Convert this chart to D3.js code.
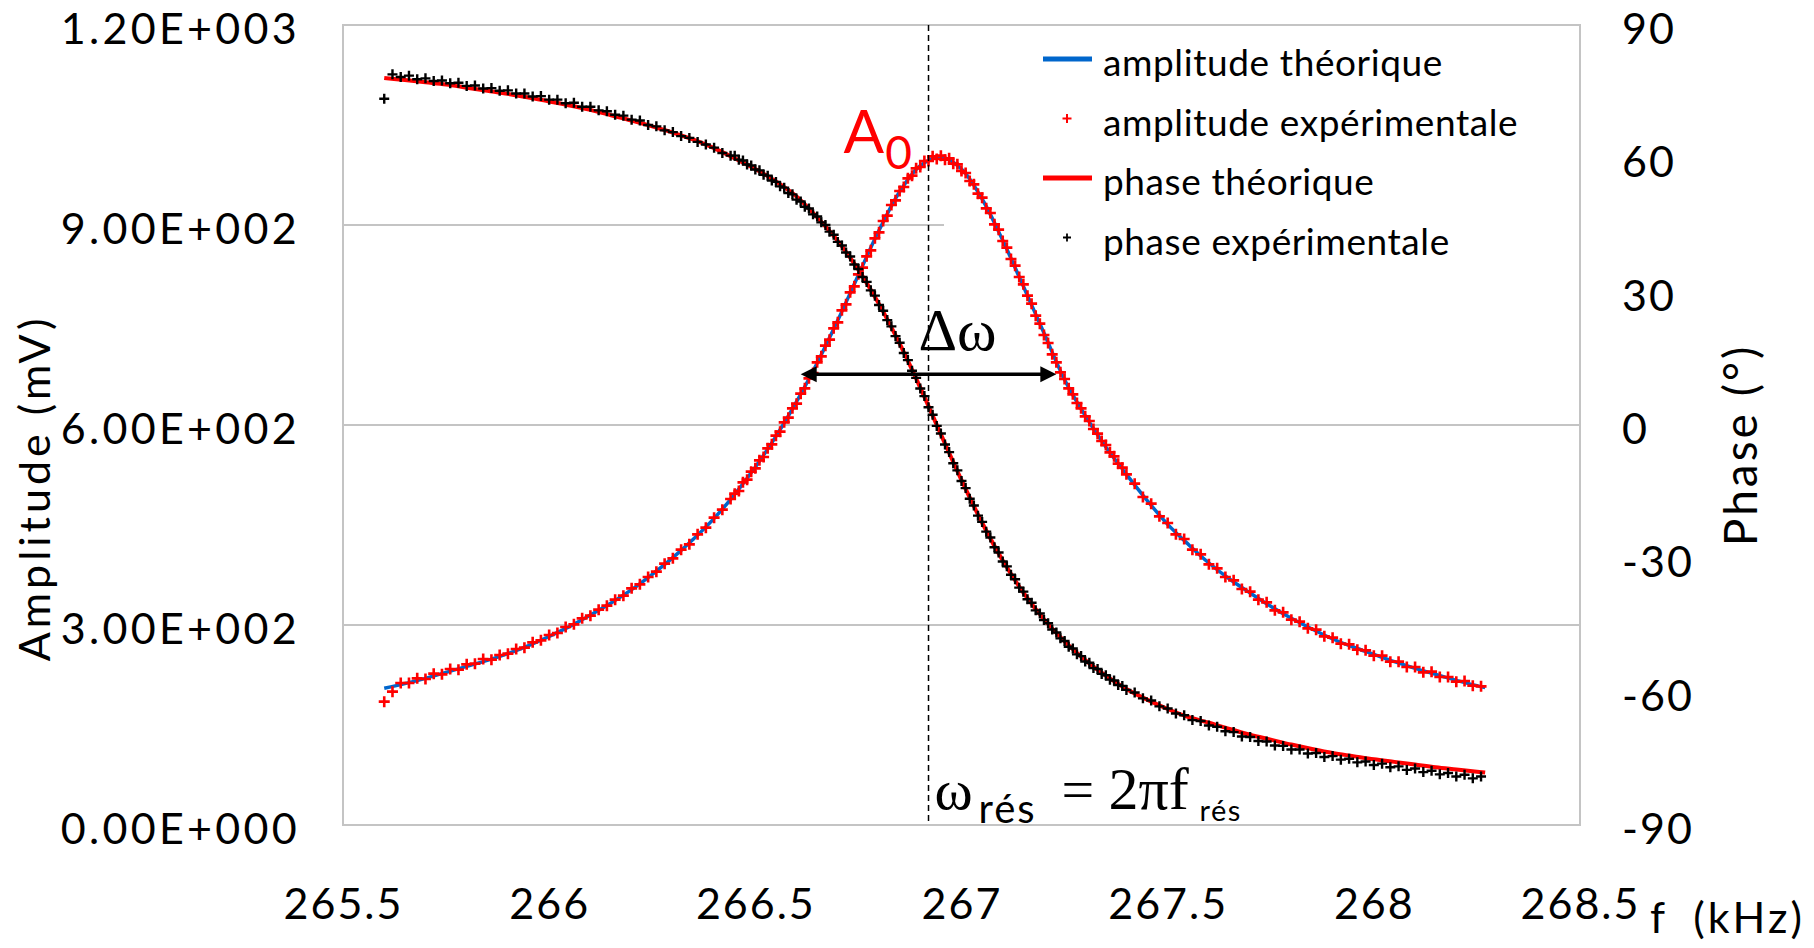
<!DOCTYPE html>
<html>
<head>
<meta charset="utf-8">
<script src="https://cdn.jsdelivr.net/npm/d3@7"></script>
<style>
  body { margin: 0; background: #fff; }
  svg text { font-family: Lato, "Open Sans", sans-serif; fill: #000; }
</style>
</head>
<body>
<div id="chart"></div>
<script>
// ---- data ----
// theoretical curves, every 0.05 kHz
const freqTheo = [265.60,265.65,265.70,265.75,265.80,265.85,265.90,265.95,266.00,266.05,266.10,266.15,266.20,266.25,266.30,266.35,266.40,
  266.45,266.50,266.55,266.60,266.65,266.70,266.75,266.80,266.85,266.90,266.95,267.00,267.05,267.10,267.15,267.20,267.25,267.30,267.35,267.40,
  267.45,267.50,267.55,267.60,267.65,267.70,267.75,267.80,267.85,267.90,267.95,268.00,268.05,268.10,268.15,268.20,268.25,268.27];
const ampTheo = [205,212,220,229,238,247,257,269,283,298,315,333,353,376,401,429,460,
  496,537,583,635,693,757,825,892,950,989,1002,984,939,877,808,738,668,614,567,526,
  487,451,421,393,369,348,328,310,294,279,267,256,245,235,226,217,209,206];
const phaseTheo = [78.1,77.6,77.1,76.6,75.9,75.2,74.5,73.7,72.8,71.9,70.9,69.7,68.5,67.2,65.8,64.2,62.3,
  60.0,57.6,54.8,51.4,46.7,41.4,34.9,27.2,18.3,8.4,-2.1,-12.4,-22.0,-30.5,-37.7,-43.7,-48.7,-52.9,-56.4,-59.4,
  -61.8,-63.9,-65.7,-67.0,-68.4,-69.7,-70.8,-71.9,-72.9,-73.8,-74.5,-75.2,-75.8,-76.4,-77.0,-77.5,-78.0,-78.2];

// experimental points
const freqExp = [265.60,265.62,265.64,265.66,265.68,265.70,265.72,265.74,265.76,265.78,265.80,265.82,265.84,265.86,265.88,265.90,
  265.92,265.94,265.96,265.98,266.00,266.02,266.04,266.06,266.08,266.10,266.12,266.14,266.16,266.18,266.20,266.22,266.24,266.26,
  266.28,266.30,266.32,266.34,266.36,266.38,266.40,266.42,266.44,
  266.45,266.46,266.47,266.48,266.49,266.50,266.51,266.52,266.53,266.54,266.55,266.56,266.57,266.58,266.59,266.60,266.61,266.62,
  266.63,266.64,266.65,266.66,266.67,266.68,266.69,266.70,266.71,266.72,266.73,266.74,266.75,266.76,266.77,266.78,266.79,266.80,
  266.81,266.82,266.83,266.84,266.85,266.86,266.87,266.88,266.89,266.90,266.91,266.92,266.93,266.94,266.95,266.96,266.97,266.98,
  266.99,267.00,267.01,267.02,267.03,267.04,267.05,267.06,267.07,267.08,267.09,267.10,267.11,267.12,267.13,267.14,267.15,267.16,
  267.17,267.18,267.19,267.20,267.21,267.22,267.23,267.24,267.25,267.26,267.27,267.28,267.29,267.30,267.31,267.32,267.33,267.34,
  267.35,267.36,267.37,267.38,267.39,267.40,
  267.42,267.44,267.46,267.48,267.50,267.52,267.54,267.56,267.58,267.60,267.62,267.64,267.66,267.68,267.70,267.72,267.74,267.76,
  267.78,267.80,267.82,267.84,267.86,267.88,267.90,267.92,267.94,267.96,267.98,268.00,268.02,268.04,268.06,268.08,268.10,268.12,
  268.14,268.16,268.18,268.20,268.22,268.24,268.26];
const ampExp = [185,200,213,213,220,219,227,226,234,233,241,242,249,248,255,257,264,266,274,277,285,288,297,301,310,314,323,329,
  338,344,355,361,372,380,392,400,413,421,436,446,461,473,489,
  497,501,514,518,530,535,547,552,565,571,584,590,604,611,625,632,647,655,670,678,694,703,719,728,745,754,772,781,799,808,
  826,836,853,862,880,889,906,914,930,937,951,957,970,974,985,987,996,996,1003,999,1004,998,1000,992,991,981,978,966,961,947,
  941,925,918,901,893,876,866,849,839,822,811,794,782,764,752,735,723,706,694,679,669,655,646,633,625,613,606,594,587,576,
  570,559,553,542,536,526,
  512,492,482,463,453,436,429,413,406,391,385,372,367,354,350,338,334,322,319,308,305,295,293,283,281,272,271,263,262,254,
  254,245,245,237,237,229,230,222,222,215,216,209,208];
const phaseExp = [73.4,78.9,78.3,78.6,77.8,78.0,77.4,77.5,76.9,77.0,76.3,76.4,75.7,75.8,75.2,75.3,74.6,74.6,73.9,74.0,73.2,73.2,
  72.4,72.5,71.6,71.6,70.8,70.6,69.8,69.6,68.7,68.5,67.5,67.2,66.3,65.9,65.0,64.6,63.7,63.1,62.4,61.2,60.6,
  60.6,59.7,59.5,58.6,58.4,57.5,57.3,56.3,56.1,55.0,54.7,53.7,53.4,52.2,51.9,50.7,50.3,49.1,48.7,47.4,
  46.9,45.6,45.0,43.5,42.8,41.2,40.4,38.8,37.9,36.1,35.1,33.3,32.2,30.3,29.1,27.0,25.7,23.6,22.2,20.0,
  18.5,16.2,14.6,12.2,10.6,8.2,6.5,4.0,2.3,-0.2,-1.9,-4.4,-6.1,-8.6,-10.2,-12.6,-14.2,-16.6,-18.1,-20.4,
  -21.8,-24.0,-25.3,-27.5,-28.7,-30.7,-31.8,-33.7,-34.7,-36.6,-37.5,-39.2,-40.0,-41.7,-42.4,-43.9,-44.6,-46.0,-46.7,-48.0,
  -48.6,-49.9,-50.3,-51.6,-52.0,-53.2,-53.5,-54.7,-54.9,-56.0,-56.3,-57.3,-57.5,-58.5,-58.7,-59.6,
  -60.2,-61.5,-62.0,-63.3,-63.8,-64.9,-65.3,-66.4,-66.6,-67.6,-67.9,-68.9,-69.1,-70.1,-70.2,-71.1,-71.2,-72.1,-72.2,-73.0,
  -73.0,-73.9,-73.8,-74.7,-74.5,-75.3,-75.1,-75.9,-75.7,-76.5,-76.2,-77.0,-76.8,-77.6,-77.3,-78.1,-77.8,-78.6,-78.3,-79.1,
  -78.7,-79.5,-79.1];

const ampTicks = [0, 300, 600, 900, 1200];
const phaseTicks = [-90, -60, -30, 0, 30, 60, 90];
const freqTicks = [265.5, 266, 266.5, 267, 267.5, 268, 268.5];
const legendLabels = ["amplitude théorique", "amplitude expérimentale", "phase théorique", "phase expérimentale"];

// annotations
const fRes = 266.92;          // dashed line
const ampPeak = 1002;         // A0
const deltaLeft = 266.61, deltaRight = 267.23, deltaLevel = 676;

// ---- layout ----
const W = 1814, H = 948;
const margin = {top: 25, right: 234, bottom: 123, left: 343};
const x0 = margin.left, x1 = W - margin.right, y0 = margin.top, y1 = H - margin.bottom;

const blue = "#0066cc", red = "#ff0000", grid = "#c4c4c4";

const svg = d3.select("#chart").append("svg")
  .attr("width", W).attr("height", H)
  .attr("viewBox", `0 0 ${W} ${H}`);

svg.append("rect").attr("width", W).attr("height", H).attr("fill", "#fff");

const x = d3.scaleLinear().domain([265.5, 268.5]).range([x0, x1]);
const yA = d3.scaleLinear().domain([0, 1200]).range([y1, y0]);
const yP = d3.scaleLinear().domain([-90, 90]).range([y1, y0]);

// gridlines
svg.append("g").selectAll("line").data(ampTicks).join("line")
  .attr("x1", x0).attr("x2", x1)
  .attr("y1", d => yA(d)).attr("y2", d => yA(d))
  .attr("stroke", grid).attr("stroke-width", 2);

// legend background hides the grid behind it
const legendBox = {x: 944, y: y0 + 2, w: x1 - 944 - 1, h: 243};
svg.append("rect")
  .attr("x", legendBox.x).attr("y", legendBox.y)
  .attr("width", legendBox.w).attr("height", legendBox.h)
  .attr("fill", "#fff");

// plot frame
svg.append("rect")
  .attr("x", x0).attr("y", y0).attr("width", x1 - x0).attr("height", y1 - y0)
  .attr("fill", "none").attr("stroke", grid).attr("stroke-width", 2);

// ---- series ----
const theoRows = freqTheo.map((f, i) => ({f, a: ampTheo[i], p: phaseTheo[i]}));
const expRows = freqExp.map((f, i) => ({f, a: ampExp[i], p: phaseExp[i]}));

const plus = (cx, cy, s) => `M${cx - s},${cy}H${cx + s}M${cx},${cy - s}V${cy + s}`;

svg.append("path").datum(theoRows)
  .attr("fill", "none").attr("stroke", blue).attr("stroke-width", 3.5)
  .attr("d", d3.line().x(d => x(d.f)).y(d => yA(d.a)).curve(d3.curveCatmullRom));

svg.append("g").selectAll("path").data(expRows).join("path")
  .attr("d", d => plus(x(d.f), yA(d.a), 5.5))
  .attr("stroke", red).attr("stroke-width", 2.6);

svg.append("path").datum(theoRows)
  .attr("fill", "none").attr("stroke", red).attr("stroke-width", 4)
  .attr("d", d3.line().x(d => x(d.f)).y(d => yP(d.p)).curve(d3.curveCatmullRom));

svg.append("g").selectAll("path").data(expRows).join("path")
  .attr("d", d => plus(x(d.f), yP(d.p), 5))
  .attr("stroke", "#000").attr("stroke-width", 2.4);

// ---- annotations ----
svg.append("line")
  .attr("x1", x(fRes)).attr("x2", x(fRes))
  .attr("y1", y0).attr("y2", y1)
  .attr("stroke", "#000").attr("stroke-width", 1.5)
  .attr("stroke-dasharray", "6,4");

const ay = yA(deltaLevel), axL = x(deltaLeft), axR = x(deltaRight);
svg.append("line")
  .attr("x1", axL + 12).attr("x2", axR - 12).attr("y1", ay).attr("y2", ay)
  .attr("stroke", "#000").attr("stroke-width", 3.5);
svg.append("path")
  .attr("d", `M${axL},${ay}L${axL + 16},${ay - 8}L${axL + 16},${ay + 8}Z M${axR},${ay}L${axR - 16},${ay - 8}L${axR - 16},${ay + 8}Z`)
  .attr("fill", "#000");

svg.append("text")
  .attr("x", x(fRes) - 10).attr("y", ay - 24)
  .style("font-family", "'Liberation Serif', 'DejaVu Serif', serif")
  .attr("font-size", 60).text("Δω");

const a0 = svg.append("text")
  .attr("x", x(fRes) - 85).attr("y", yA(ampPeak) - 4)
  .style("fill", red).attr("font-size", 60);
a0.append("tspan").text("A");
a0.append("tspan").attr("font-size", 46).attr("dy", 16).attr("dx", 1).text("0");

// omega_res = 2 pi f_res
const eqY = y1 - 16, serif = "'Liberation Serif', 'DejaVu Serif', serif";
svg.append("text").attr("x", x(fRes) + 6).attr("y", eqY)
  .style("font-family", serif).attr("font-size", 58).text("ω");
svg.append("text").attr("x", x(fRes) + 50).attr("y", eqY + 14)
  .attr("font-size", 40).style("letter-spacing", "2px").text("rés");
svg.append("text").attr("x", x(fRes) + 133).attr("y", eqY)
  .style("font-family", serif).attr("font-size", 58).text("=");
svg.append("text").attr("x", x(fRes) + 180).attr("y", eqY)
  .style("font-family", serif).attr("font-size", 60).text("2πf");
svg.append("text").attr("x", x(fRes) + 271).attr("y", eqY + 12)
  .attr("font-size", 29).style("letter-spacing", "1.5px").text("rés");

// ---- legend ----
const lgX = 1043, lgY = 59, lgStep = 59.5;
const legend = svg.append("g");
legendLabels.forEach((label, i) => {
  const cy = lgY + i * lgStep;
  if (i === 0 || i === 2) {
    legend.append("line").attr("x1", lgX).attr("x2", lgX + 49)
      .attr("y1", cy).attr("y2", cy)
      .attr("stroke", i === 0 ? blue : red).attr("stroke-width", 5);
  } else {
    legend.append("path").attr("d", plus(lgX + 24, cy, i === 1 ? 4.5 : 4))
      .attr("stroke", i === 1 ? red : "#000").attr("stroke-width", i === 1 ? 2 : 1.8);
  }
  legend.append("text").attr("x", 1103).attr("y", cy + 17)
    .attr("font-size", 37).style("letter-spacing", "0.6px").text(label);
});

// ---- axes ----
const fmtE = d => {
  const [m, e] = d.toExponential(2).split("e");
  const n = +e;
  return m + "E" + (n < 0 ? "-" : "+") + String(Math.abs(n)).padStart(3, "0");
};

const styleAxis = (g, ls) => {
  g.attr("font-family", "Lato, sans-serif").attr("font-size", 43);
  g.select(".domain").remove();
  g.selectAll(".tick line").remove();
  g.selectAll("text").style("letter-spacing", ls + "px");
};

svg.append("g")
  .attr("transform", `translate(${x0},0)`)
  .call(d3.axisLeft(yA).tickValues(ampTicks).tickFormat(fmtE).tickSize(0).tickPadding(43))
  .call(styleAxis, 3.3)
  .selectAll("text").attr("dy", "0.43em");

svg.append("g")
  .attr("transform", `translate(${x1},0)`)
  .call(d3.axisRight(yP).tickValues(phaseTicks).tickFormat(d => String(d)).tickSize(0).tickPadding(42))
  .call(styleAxis, 2)
  .selectAll("text").attr("dy", "0.43em");

svg.append("g")
  .attr("transform", `translate(0,${y1})`)
  .call(d3.axisBottom(x).tickValues(freqTicks).tickFormat(d => String(d)).tickSize(0).tickPadding(63))
  .call(styleAxis, 2);

// axis titles
svg.append("text")
  .attr("transform", `translate(50,488) rotate(-90)`)
  .attr("text-anchor", "middle").attr("font-size", 43)
  .style("letter-spacing", "4px").text("Amplitude (mV)");

svg.append("text")
  .attr("transform", `translate(1757,445) rotate(-90)`)
  .attr("text-anchor", "middle").attr("font-size", 46)
  .style("letter-spacing", "3px").text("Phase (°)");

svg.append("text")
  .attr("x", 1650).attr("y", 933)
  .attr("font-size", 43)
  .style("letter-spacing", "3px").style("word-spacing", "12px")
  .text("f (kHz)");
</script>
</body>
</html>
